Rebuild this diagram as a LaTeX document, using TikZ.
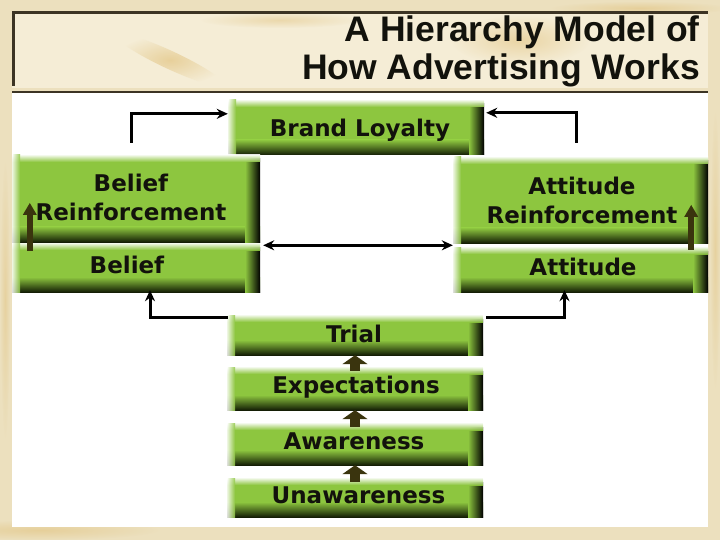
\documentclass[tikz,border=0pt]{standalone}
\usepackage{fontspec}
\setmainfont{DejaVu Sans}
\newfontfamily\titlefont{Liberation Sans}
\usetikzlibrary{arrows.meta,calc}
\definecolor{boxgreen}{RGB}{141,198,63}
\definecolor{boxdark}{RGB}{20,30,5}
\definecolor{arrowolive}{RGB}{58,52,14}
\definecolor{beigebg}{RGB}{236,224,190}
\definecolor{titlebg}{RGB}{245,237,214}
\definecolor{marble}{RGB}{226,196,130}
\definecolor{darkframe}{RGB}{60,52,36}
\definecolor{textdark}{RGB}{18,18,12}
\begin{document}
\begin{tikzpicture}[x=1pt,y=-1pt,
  gbox/.style={rectangle, inner sep=0pt, path picture={
     \fill[boxgreen] (path picture bounding box.north west) rectangle (path picture bounding box.south east);
     \shade[top color=boxgreen, middle color=boxgreen!45!boxdark, bottom color=boxdark] ([yshift=15pt]path picture bounding box.south west) rectangle (path picture bounding box.south east);
     \shade[left color=boxgreen, middle color=boxgreen!40!boxdark, right color=black] ([xshift=-15pt,yshift=-4pt]path picture bounding box.north east) rectangle (path picture bounding box.south east);
     \shade[top color=white, bottom color=boxgreen, opacity=0.9] (path picture bounding box.north west) rectangle ([yshift=-7pt]path picture bounding box.north east);
     \shade[left color=white, right color=boxgreen, opacity=0.85] (path picture bounding box.north west) rectangle ([xshift=8pt]path picture bounding box.south west);
  }},
  btext/.style={font=\fontsize{23}{29}\selectfont\bfseries, text=textdark, align=center, inner sep=0pt},
  conn/.style={line width=3pt, -{Stealth[length=11pt,width=10pt]}},
  dconn/.style={line width=3pt, {Stealth[length=11pt,width=10pt]}-{Stealth[length=11pt,width=10pt]}},
  upar/.style={draw=arrowolive, line width=6pt, -{Triangle[length=12pt,width=13pt]}},
  stackar/.style={draw=arrowolive, line width=10pt, -{Triangle[length=9pt,width=25pt]}},
  ttl/.style={font=\titlefont\bfseries\fontsize{35.5}{38}\selectfont, text=textdark, anchor=base east, inner sep=0pt}
]
\useasboundingbox (0,0) rectangle (720,540);
% background
\fill[beigebg] (0,0) rectangle (720,540);
\shade[inner color=marble, outer color=beigebg, opacity=0.6] (40,530) ellipse (120 and 10);
\shade[inner color=marble, outer color=beigebg, opacity=0.6] (640,8) ellipse (90 and 7);
\shade[inner color=marble, outer color=beigebg, opacity=0.5] (5,300) ellipse (5 and 140);
\shade[inner color=marble, outer color=beigebg, opacity=0.5] (715,250) ellipse (5 and 140);
% title panel
\fill[titlebg] (12,12) rectangle (708,88);
\shade[inner color=marble, outer color=titlebg, opacity=0.7, rotate around={-25:(170,60)}] (170,60) ellipse (60 and 9);
\shade[inner color=marble, outer color=titlebg, opacity=0.6] (520,40) ellipse (70 and 25);
\shade[inner color=marble, outer color=titlebg, opacity=0.5] (280,20) ellipse (80 and 8);
\draw[darkframe, line width=3pt] (13,86) -- (13,13) -- (708,13);
% white panel
\fill[white] (12,93) rectangle (708,527);
\draw[darkframe, line width=2pt] (12,92) -- (708,92);

\node[ttl] (title1) at (700,42) {A Hierarchy Model of};
\node[ttl] (title2) at (700,80) {How Advertising Works};

% boxes
\node[gbox, minimum width=256pt, minimum height=55pt,
  label={[btext, xshift=4pt, yshift=-2.5pt]center:Brand Loyalty}] (loyalty) at (356,127.5) {};
\node[gbox, minimum width=248pt, minimum height=87pt,
  label={[btext, xshift=-5pt, yshift=1pt]center:Belief\\Reinforcement}] (beliefr) at (136,198.5) {};
\node[gbox, minimum width=248pt, minimum height=49pt,
  label={[btext, xshift=-9pt, yshift=2.5pt]center:Belief}] (belief) at (136,267.5) {};
\node[gbox, minimum width=255pt, minimum height=86pt,
  label={[btext, xshift=1.5pt, yshift=0pt]center:Attitude\\Reinforcement}] (attituder) at (580.5,200) {};
\node[gbox, minimum width=255pt, minimum height=45pt,
  label={[btext, xshift=2.5pt, yshift=2.5pt]center:Attitude}] (attitude) at (580.5,269.5) {};
\node[gbox, minimum width=256pt, minimum height=40pt,
  label={[btext, xshift=-1pt, yshift=1pt]center:Trial}] (trial) at (355,335) {};
\node[gbox, minimum width=256pt, minimum height=43pt,
  label={[btext, xshift=1pt, yshift=1pt]center:Expectations}] (expect) at (355,388.5) {};
\node[gbox, minimum width=256pt, minimum height=42pt,
  label={[btext, xshift=-1pt, yshift=3pt]center:Awareness}] (aware) at (355,444) {};
\node[gbox, minimum width=256pt, minimum height=39pt,
  label={[btext, xshift=3.5pt, yshift=2.5pt]center:Unawareness}] (unaware) at (355,497.5) {};

% connectors
\coordinate (lt) at (131,143);
\coordinate (rt) at (576,143);
\draw[conn] (lt) |- ($(loyalty.north west)+(0,14)$);
\draw[conn] (rt) |- ($(loyalty.north east)+(2,13)$);
\draw[dconn] ($(belief.north east)+(3,2.5)$) -- ($(attitude.north west)+(0,-1.5)$);
\draw[conn] ($(trial.north west)+(1,3)$) -| ($(belief.south)+(14,-2)$);
\draw[conn] ($(trial.north east)+(3,3)$) -| ($(attitude.south)+(-16,-2)$);

% olive arrows
\draw[upar] ($(belief.north west)+(18,8)$) -- ($(belief.north west)+(18,-40)$);
\draw[upar] ($(attitude.north east)+(-17,3)$) -- ($(attitude.north east)+(-17,-42)$);
\draw[stackar] ($(expect.north)+(0,4)$) -- (trial.south);
\draw[stackar] ($(aware.north)+(0,4)$) -- (expect.south);
\draw[stackar] ($(unaware.north)+(0,4)$) -- (aware.south);
\end{tikzpicture}
\end{document}
